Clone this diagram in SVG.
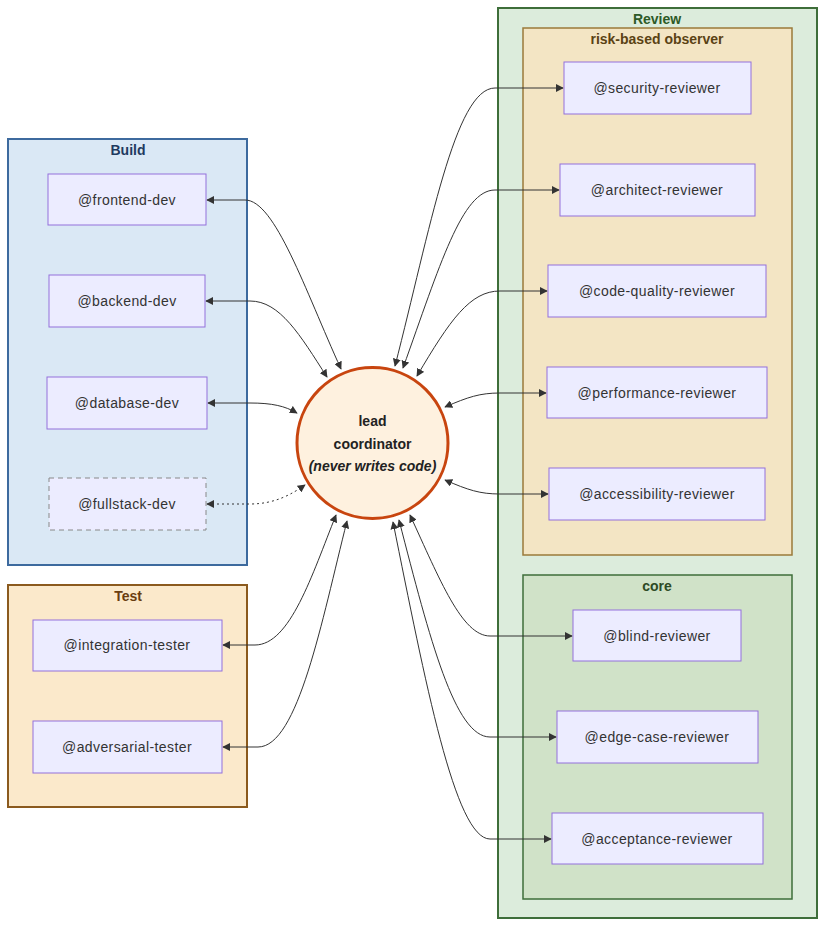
<svg xmlns="http://www.w3.org/2000/svg" width="833" height="936" viewBox="0 0 833 936">
<style>
text{font-family:"Trebuchet MS","Liberation Sans",Arial,sans-serif;font-size:14px;text-anchor:middle;dominant-baseline:central;fill:#333}
.n text{letter-spacing:0.4px}
.n rect{fill:#ECECFF;stroke:#9370DB;stroke-width:1}
.n.dash rect{stroke:#888;stroke-dasharray:5 4}
.t{font-weight:bold}
.e{fill:none;stroke:#333;stroke-width:1}
.dot{stroke-dasharray:2 3}
</style>
<defs>
<marker id="ah" viewBox="0 0 10 10" refX="9" refY="5" markerWidth="8" markerHeight="8" markerUnits="userSpaceOnUse" orient="auto-start-reverse"><path d="M0,0 L10,5 L0,10 z" fill="#333"/></marker>
</defs>
<rect width="833" height="936" fill="#fff"/>
<g id="cluster-build"><rect x="8" y="139" width="239" height="426" fill="#dae8f5" stroke="#3d6a9e" stroke-width="2"/><text class="t" x="128" y="150" style="fill:#1f3a5f">Build</text></g>
<g id="cluster-test"><rect x="8" y="585" width="239" height="222" fill="#fbe9cb" stroke="#8b5a1e" stroke-width="2"/><text class="t" x="128" y="596" style="fill:#6a3d10">Test</text></g>
<g id="cluster-review"><rect x="498" y="8" width="319" height="910" fill="#dcecdc" stroke="#3e6e3a" stroke-width="2"/><text class="t" x="657" y="19" style="fill:#2d5a27">Review</text></g>
<g id="cluster-risk"><rect x="523" y="28" width="269" height="527" fill="#f3e5c4" stroke="#9a7a3a" stroke-width="1.5"/><text class="t" x="657" y="39" style="fill:#5a4214">risk-based observer</text></g>
<g id="cluster-core"><rect x="523" y="575" width="269" height="324" fill="#d0e2c8" stroke="#3e6e3a" stroke-width="1.5"/><text class="t" x="657" y="586" style="fill:#2d4a25">core</text></g>

<g id="connectors">
<path class="e" marker-start="url(#ah)" marker-end="url(#ah)" d="M207,200 L245,200 C275,200 305,290 341,369"/>
<path class="e" marker-start="url(#ah)" marker-end="url(#ah)" d="M206,301 L250,301 C280,301 300,335 327,377"/>
<path class="e" marker-start="url(#ah)" marker-end="url(#ah)" d="M208,403 L250,403 C272,403 285,406 297,413"/>
<path class="e dot" marker-start="url(#ah)" marker-end="url(#ah)" d="M207,504 L250,504 C275,504 292,494 305,485"/>
<path class="e" marker-start="url(#ah)" marker-end="url(#ah)" d="M223,645 L255,645 C290,645 312,575 336,515"/>
<path class="e" marker-start="url(#ah)" marker-end="url(#ah)" d="M223,747 L258,747 C298,747 322,620 347,521"/>
<path class="e" marker-start="url(#ah)" marker-end="url(#ah)" d="M395,366 C430,230 455,88 495,88 L563,88"/>
<path class="e" marker-start="url(#ah)" marker-end="url(#ah)" d="M403,368 C440,265 462,190 495,190 L559,190"/>
<path class="e" marker-start="url(#ah)" marker-end="url(#ah)" d="M417,376 C450,320 470,291 500,291 L547,291"/>
<path class="e" marker-start="url(#ah)" marker-end="url(#ah)" d="M445,407 C468,397 480,393 500,393 L546,393"/>
<path class="e" marker-start="url(#ah)" marker-end="url(#ah)" d="M445,480 C468,490 480,494 500,494 L548,494"/>
<path class="e" marker-start="url(#ah)" marker-end="url(#ah)" d="M410,515 C440,580 462,636 490,636 L572,636"/>
<path class="e" marker-start="url(#ah)" marker-end="url(#ah)" d="M399,520 C430,640 455,737 490,737 L556,737"/>
<path class="e" marker-start="url(#ah)" marker-end="url(#ah)" d="M393,522 C425,680 455,839 490,839 L551,839"/>
</g>

<g id="lead"><circle cx="372.5" cy="443" r="75.5" fill="#fef1df" stroke="#c8450f" stroke-width="3"/>
<text class="t" x="372.5" y="421" style="fill:#222">lead</text>
<text class="t" x="372.5" y="444" style="fill:#222">coordinator</text>
<text class="t" x="372.5" y="466" style="fill:#222;font-style:italic">(never writes code)</text></g>

<g id="frontend-dev" class="n"><rect x="48" y="174" width="158" height="51"/><text x="127" y="200">@frontend-dev</text></g>
<g id="backend-dev" class="n"><rect x="49" y="275" width="156" height="52"/><text x="127" y="301">@backend-dev</text></g>
<g id="database-dev" class="n"><rect x="47" y="377" width="160" height="52"/><text x="127" y="403">@database-dev</text></g>
<g id="fullstack-dev" class="n dash"><rect x="49" y="478" width="157" height="52"/><text x="127" y="504">@fullstack-dev</text></g>
<g id="integration-tester" class="n"><rect x="33" y="620" width="189" height="51"/><text x="127" y="645">@integration-tester</text></g>
<g id="adversarial-tester" class="n"><rect x="33" y="721" width="189" height="52"/><text x="127" y="747">@adversarial-tester</text></g>

<g id="security-reviewer" class="n"><rect x="564" y="62" width="187" height="52"/><text x="657" y="88">@security-reviewer</text></g>
<g id="architect-reviewer" class="n"><rect x="560" y="164" width="195" height="52"/><text x="657" y="190">@architect-reviewer</text></g>
<g id="code-quality-reviewer" class="n"><rect x="548" y="265" width="218" height="52"/><text x="657" y="291">@code-quality-reviewer</text></g>
<g id="performance-reviewer" class="n"><rect x="547" y="367" width="220" height="51"/><text x="657" y="393">@performance-reviewer</text></g>
<g id="accessibility-reviewer" class="n"><rect x="549" y="468" width="216" height="52"/><text x="657" y="494">@accessibility-reviewer</text></g>
<g id="blind-reviewer" class="n"><rect x="573" y="610" width="168" height="51"/><text x="657" y="636">@blind-reviewer</text></g>
<g id="edge-case-reviewer" class="n"><rect x="557" y="711" width="201" height="52"/><text x="657" y="737">@edge-case-reviewer</text></g>
<g id="acceptance-reviewer" class="n"><rect x="552" y="813" width="211" height="51"/><text x="657" y="839">@acceptance-reviewer</text></g>
</svg>
